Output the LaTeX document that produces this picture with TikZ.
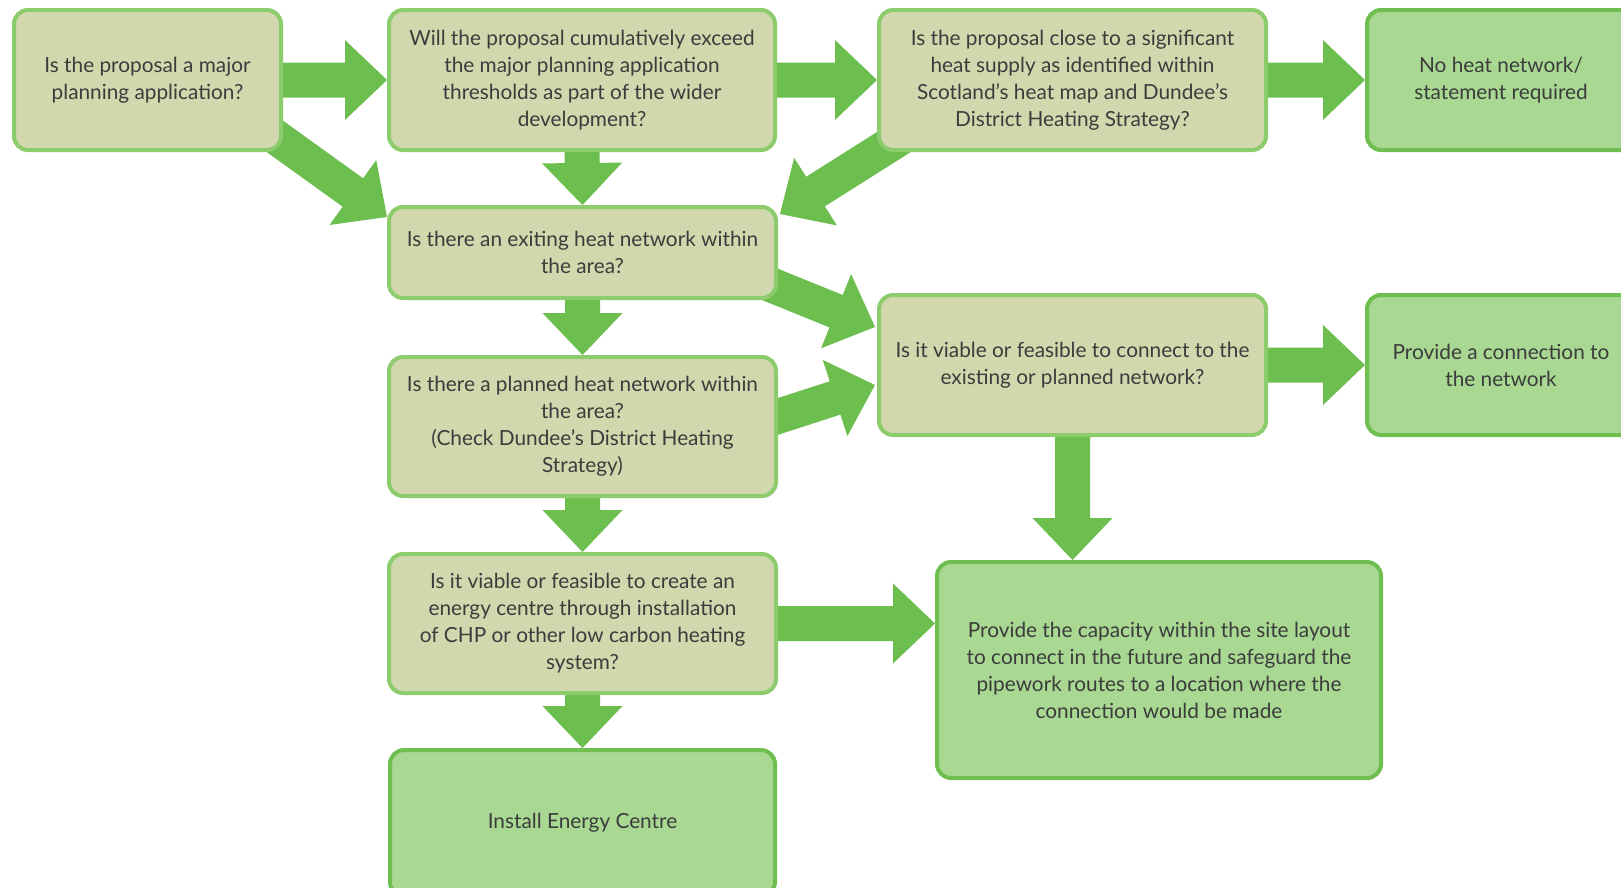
\documentclass[tikz,border=0pt]{standalone}
\usepackage{fontspec}
\setmainfont{Lato}
\usetikzlibrary{calc,backgrounds}
\definecolor{qfill}{HTML}{D2D8AD}
\definecolor{qline}{HTML}{8DCC6D}
\definecolor{afill}{HTML}{A8D892}
\definecolor{aline}{HTML}{6EBF50}
\definecolor{arrowc}{HTML}{6CBE4E}
\definecolor{txt}{HTML}{3C3C3C}
\tikzset{
  box/.style={rounded corners=14pt, line width=4pt, align=center, inner sep=0pt,
    text=txt, font=\fontsize{20.8}{27}\selectfont},
  qbox/.style={box, draw=qline, fill=qfill},
  abox/.style={box, draw=aline, fill=afill},
}
\newcommand{\blockarrow}[2]{%
  \coordinate (hb) at ($(#2)!42pt!(#1)$);
  \fill[arrowc] ($(#1)!17.5pt!90:(#2)$) -- ($(hb)!17.5pt!90:(#2)$) -- ($(hb)!40pt!90:(#2)$)
    -- (#2) -- ($(hb)!40pt!-90:(#2)$) -- ($(hb)!17.5pt!-90:(#2)$) -- ($(#1)!17.5pt!-90:(#2)$) -- cycle;
}
\begin{document}
\begin{tikzpicture}[x=1pt,y=-1pt]
\useasboundingbox (0,0) rectangle (1621,887);
\clip (0,0) rectangle (1621,887);

\node[qbox, minimum width=267pt, minimum height=140pt] (A) at (147.5,80)
  {Is the proposal a major\\planning application?};
\node[qbox, minimum width=386pt, minimum height=140pt] (B) at (582,80)
  {Will the proposal cumulatively exceed\\the major planning application\\thresholds as part of the wider\\development?};
\node[qbox, minimum width=387pt, minimum height=140pt] (C) at (1072.5,80)
  {Is the proposal close to a significant\\heat supply as identified within\\Scotland’s heat map and Dundee’s\\District Heating Strategy?};
\node[abox, minimum width=268pt, minimum height=140pt] (D) at (1501,80)
  {No heat network/\\statement required};
\node[qbox, minimum width=387pt, minimum height=91pt] (E) at (582.5,252.5)
  {Is there an exiting heat network within\\the area?};
\node[qbox, minimum width=387pt, minimum height=139pt] (F) at (582.5,426.5)
  {Is there a planned heat network within\\the area?\\(Check Dundee’s District Heating\\Strategy)};
\node[qbox, minimum width=387pt, minimum height=139pt] (G) at (582.5,623.5)
  {Is it viable or feasible to create an\\energy centre through installation\\of CHP or other low carbon heating\\system?};
\node[abox, minimum width=385pt, minimum height=146pt] (H) at (582.5,823)
  {Install Energy Centre};
\node[qbox, minimum width=387pt, minimum height=140pt] (I) at (1072.5,365)
  {Is it viable or feasible to connect to the\\existing or planned network?};
\node[abox, minimum width=268pt, minimum height=140pt] (J) at (1501,365)
  {Provide a connection to\\the network};
\node[abox, minimum width=444pt, minimum height=216pt] (K) at (1159,670)
  {Provide the capacity within the site layout\\to connect in the future and safeguard the\\pipework routes to a location where the\\connection would be made};

\begin{scope}[on background layer]
  \fill[white] (0,0) rectangle (1621,887);
  \coordinate (aeS) at ($(A.south east)+(-17,-22)$);
  \coordinate (aeT) at ($(E.north west)+(0,12)$);
  \coordinate (ceS) at ($(C.south west)+(28,-17)$);
  \coordinate (ceT) at ($(E.north east)+(2,9)$);
  \coordinate (eiS) at ($(E.east)+(-25,25)$);
  \coordinate (eiT) at ($(I.west)+(-2,-38)$);
  \coordinate (fiS) at ($(F.east)+(-25,-2)$);
  \coordinate (fiT) at ($(I.west)+(-2,20)$);
  \coordinate (ikT) at (I.south |- K.north);
  \coordinate (gkT) at (G.east -| K.west);
  \blockarrow{A.east}{B.west}
  \blockarrow{B.east}{C.west}
  \blockarrow{C.east}{D.west}
  \blockarrow{aeS}{aeT}
  \blockarrow{ceS}{ceT}
  \blockarrow{B.south}{E.north}
  \blockarrow{E.south}{F.north}
  \blockarrow{F.south}{G.north}
  \blockarrow{G.south}{H.north}
  \blockarrow{eiS}{eiT}
  \blockarrow{fiS}{fiT}
  \blockarrow{I.east}{J.west}
  \blockarrow{I.south}{ikT}
  \blockarrow{G.east}{gkT}
\end{scope}
\end{tikzpicture}
\end{document}
